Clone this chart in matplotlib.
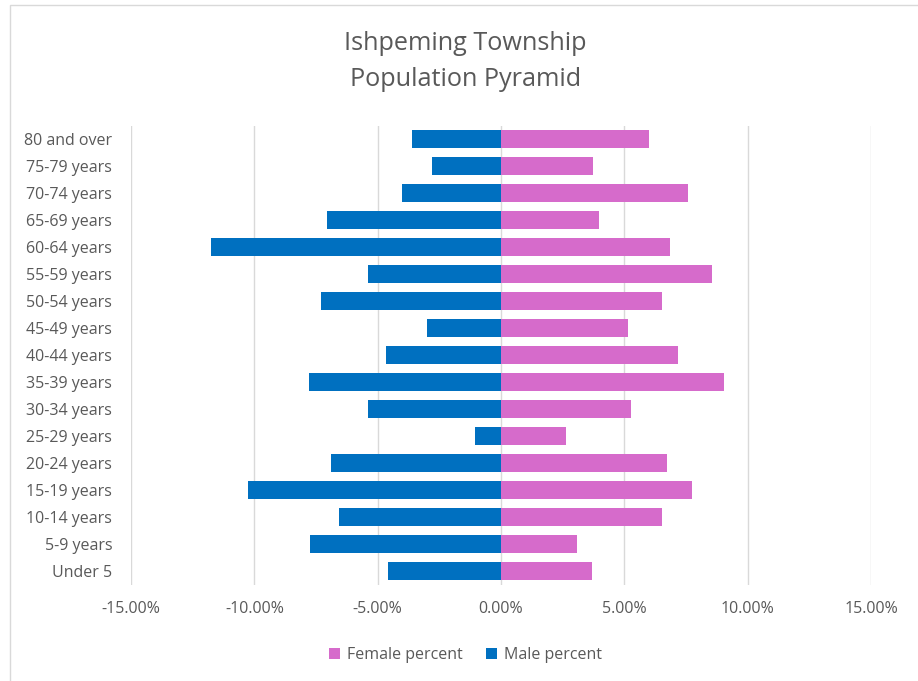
import numpy as np
import matplotlib.pyplot as plt
from matplotlib.patches import Rectangle
from matplotlib.ticker import FuncFormatter

plt.rcParams['font.family'] = ['Open Sans', 'DejaVu Sans']

# 年龄组（从下到上）
age_groups = ['Under 5', '5-9 years', '10-14 years', '15-19 years', '20-24 years',
              '25-29 years', '30-34 years', '35-39 years', '40-44 years', '45-49 years',
              '50-54 years', '55-59 years', '60-64 years', '65-69 years', '70-74 years',
              '75-79 years', '80 and over']

# 百分比数据
male_pct = [4.58, 7.74, 6.57, 10.26, 6.89, 1.05, 5.38, 7.80, 4.65, 3.02,
            7.30, 5.38, 11.77, 7.07, 4.00, 2.80, 3.59]
female_pct = [3.68, 3.07, 6.54, 7.75, 6.72, 2.65, 5.26, 9.04, 7.16, 5.14,
              6.54, 8.55, 6.85, 3.99, 7.58, 3.74, 6.00]

xticks = [-15, -10, -5, 0, 5, 10, 15]

female_color = '#D66BCB'
male_color = '#0070C0'
text_color = '#595959'
grid_color = '#D9D9D9'

fig = plt.figure(figsize=(9.18, 6.81), dpi=100)
ax = fig.add_axes([0.1427, 0.1417, 0.8061, 0.674])

y = np.arange(len(age_groups))
ax.barh(y, female_pct, height=0.67, color=female_color, label='Female percent', zorder=3)
ax.barh(y, -np.array(male_pct), height=0.67, color=male_color, label='Male percent', zorder=3)

ax.set_xlim(-15, 15)
ax.set_ylim(-0.5, len(age_groups) - 0.5)
ax.set_xticks(xticks)
ax.xaxis.set_major_formatter(FuncFormatter(lambda v, p: '{:.2f}%'.format(v)))
ax.set_yticks(y)
ax.set_yticklabels(age_groups)

ax.grid(axis='x', color=grid_color, linewidth=1, zorder=0)
for s in ax.spines.values():
    s.set_visible(False)
ax.tick_params(axis='both', length=0, colors=text_color, labelsize=11.5)
ax.tick_params(axis='x', pad=12)
ax.tick_params(axis='y', pad=13.5)

fig.text(0.507, 0.9097, 'Ishpeming Township\nPopulation Pyramid', ha='center', va='center',
         fontsize=18.2, color=text_color, linespacing=1.56)

leg = fig.legend(loc='center', bbox_to_anchor=(0.507, 0.038), ncol=2, frameon=False,
                 fontsize=11.5, handlelength=0.7, handleheight=0.7, handletextpad=0.4,
                 columnspacing=1.5)
for t in leg.get_texts():
    t.set_color(text_color)

# 图表外框
fig.patches.append(Rectangle((0.011, -0.05), 1.1, 1.043, transform=fig.transFigure,
                             fill=False, edgecolor=grid_color, linewidth=1))

plt.savefig('out.png', dpi=100)
